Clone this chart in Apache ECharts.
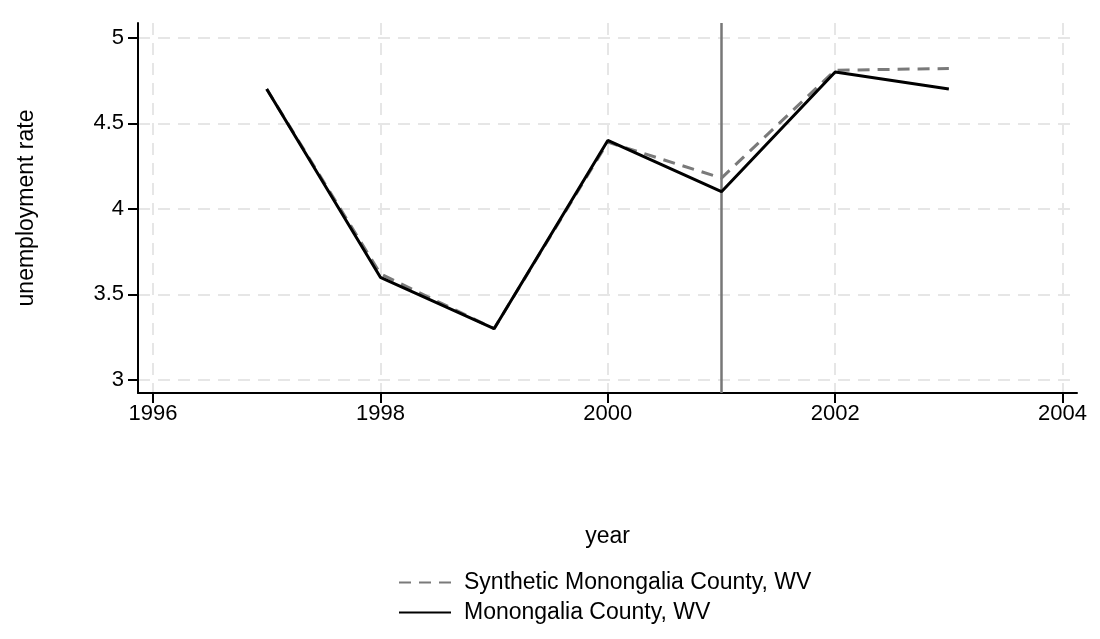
<!DOCTYPE html>
<html>
<head>
<meta charset="utf-8">
<script src="https://cdn.jsdelivr.net/npm/echarts@6/dist/echarts.min.js"></script>
<style>
	html, body { margin: 0; padding: 0; background: #fff; }
	#chart { width: 1100px; height: 639px; }
</style>
</head>
<body>
<div id="chart"></div>
<script>
var years = [1997, 1998, 1999, 2000, 2001, 2002, 2003];
var monongalia = [4.7, 3.6, 3.3, 4.4, 4.1, 4.8, 4.7];
var synthetic = [4.7, 3.62, 3.3, 4.39, 4.18, 4.81, 4.82];
var xTicks = [1996, 1998, 2000, 2002, 2004];
var yTicks = [3, 3.5, 4, 4.5, 5];
var treatmentYear = 2001;

var fontFamily = 'Liberation Sans, Arial, sans-serif';
var gridColor = '#e6e6e6';

function pairs(xs, ys) {
	var out = [];
	for (var i = 0; i < xs.length; i++) out.push([xs[i], ys[i]]);
	return out;
}

var chart = echarts.init(document.getElementById('chart'), null, { renderer: 'canvas' });

chart.setOption({
	animation: false,
	backgroundColor: '#fff',
	grid: { left: 138, right: 23, top: 23, bottom: 246 },
	xAxis: {
		type: 'value',
		min: 1995.868,
		max: 2004.127,
		name: 'year',
		nameLocation: 'middle',
		nameGap: 132,
		nameTextStyle: { fontSize: 23, color: '#000', fontFamily: fontFamily },
		axisLine: { onZero: false, lineStyle: { color: '#000', width: 2 } },
		axisTick: { show: true, length: 10, lineStyle: { color: '#000', width: 2 }, customValues: xTicks },
		axisLabel: { margin: 10, fontSize: 22, color: '#000', fontFamily: fontFamily, customValues: xTicks,
			formatter: function (v) { return String(v); } },
		splitLine: { show: true, lineStyle: { color: gridColor, width: 2, type: [12, 8] } }
	},
	yAxis: {
		type: 'value',
		min: 2.924,
		max: 5.086,
		name: 'unemployment rate',
		nameLocation: 'middle',
		nameGap: 100,
		nameTextStyle: { fontSize: 23, color: '#000', fontFamily: fontFamily },
		axisLine: { show: true, onZero: false, lineStyle: { color: '#000', width: 2 } },
		axisTick: { show: true, length: 10, lineStyle: { color: '#000', width: 2 }, customValues: yTicks },
		axisLabel: { margin: 14, fontSize: 22, color: '#000', fontFamily: fontFamily, customValues: yTicks },
		splitLine: { show: true, lineStyle: { color: gridColor, width: 2, type: [12, 8] } }
	},
	legend: {
		orient: 'vertical',
		left: 393,
		top: 566,
		itemWidth: 52,
		itemHeight: 14,
		itemGap: 7,
		itemStyle: { opacity: 0 },
		textStyle: { fontSize: 23, color: '#000', fontFamily: fontFamily, padding: [0, 0, 0, 8] },
		data: ['Synthetic Monongalia County, WV', 'Monongalia County, WV']
	},
	series: [
		{
			name: 'Synthetic Monongalia County, WV',
			type: 'line',
			data: pairs(years, synthetic),
			symbol: 'none',
			color: '#7a7a7a',
			lineStyle: { color: '#7a7a7a', width: 3, type: [12, 8] },
			z: 3
		},
		{
			name: 'Monongalia County, WV',
			type: 'line',
			data: pairs(years, monongalia),
			symbol: 'none',
			color: '#000',
			lineStyle: { color: '#000', width: 3 },
			z: 4,
			markLine: {
				silent: true,
				symbol: 'none',
				label: { show: false },
				lineStyle: { color: '#777', width: 2.5, type: 'solid' },
				data: [{ xAxis: treatmentYear }],
				z: 2
			}
		}
	]
});
</script>
</body>
</html>
